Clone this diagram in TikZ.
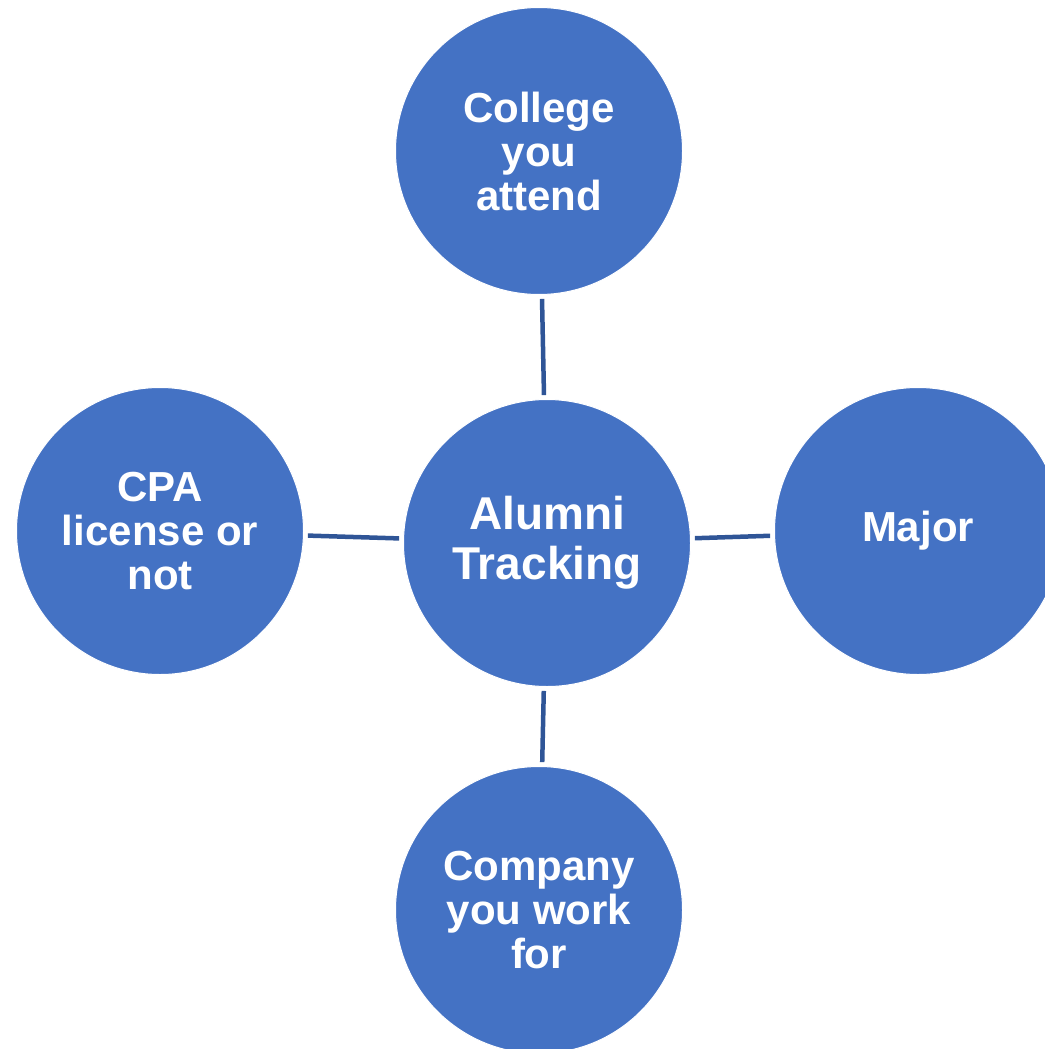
\documentclass[tikz,border=0pt]{standalone}
\usepackage{fontspec}
\setmainfont{Liberation Sans}
\definecolor{bubble}{HTML}{4472C4}
\definecolor{link}{HTML}{2F5597}
\begin{document}
\begin{tikzpicture}[x=1pt,y=-1pt,
  bubble/.style={circle,fill=bubble,draw=white,line width=1pt,minimum size=287pt,inner sep=0pt,
    text=white,align=center,font=\fontsize{42}{44}\selectfont\bfseries},
  hub/.style={bubble,font=\fontsize{46}{50}\selectfont\bfseries},
  linkline/.style={draw=link,line width=4.5pt,shorten <=4pt,shorten >=4pt}]
\useasboundingbox (0,0) rectangle (1044,1049);
\node[hub] (c) at (547,543) {Alumni\\Tracking};
\node[bubble] (t) at (539,151) {College\\you\\attend};
\node[bubble] (l) at (160,531) {CPA\\license or\\not};
\node[bubble] (r) at (918,531) {Major};
\node[bubble] (b) at (539,910) {Company\\you work\\for};
\draw[linkline] (t) -- (c);
\draw[linkline] (l) -- (c);
\draw[linkline] (c) -- (r);
\draw[linkline] (c) -- (b);
\end{tikzpicture}
\end{document}
